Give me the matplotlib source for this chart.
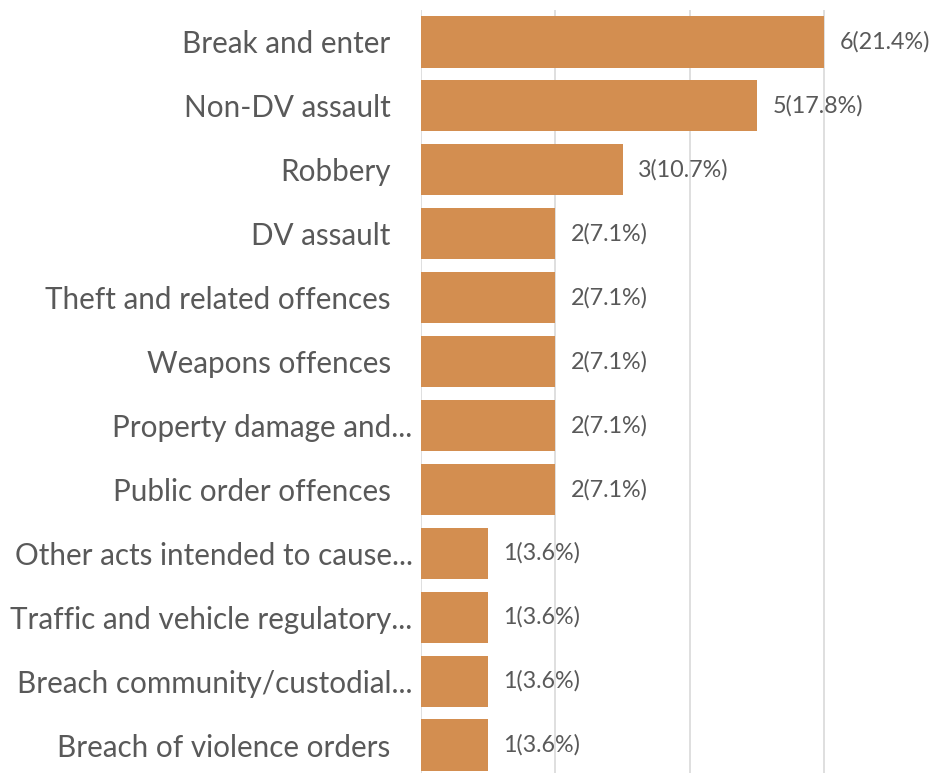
import numpy as np
import matplotlib.pyplot as plt
import matplotlib.transforms as mtransforms

plt.rcParams['font.family'] = ['Lato', 'DejaVu Sans']

# offence categories, top to bottom
categories = ["Break and enter", "Non-DV assault", "Robbery", "DV assault",
              "Theft and related offences", "Weapons offences",
              "Property damage and...", "Public order offences",
              "Other acts intended to cause...", "Traffic and vehicle regulatory...",
              "Breach community/custodial...", "Breach of violence orders"]
counts = [6, 5, 3, 2, 2, 2, 2, 2, 1, 1, 1, 1]
shares = [21.4, 17.8, 10.7, 7.1, 7.1, 7.1, 7.1, 7.1, 3.6, 3.6, 3.6, 3.6]

bar_col = '#D38E50'
txt_col = '#595959'

fig = plt.figure(figsize=(9.44, 7.73), dpi=100)
ax = fig.add_axes([421/944, -4/773, 1 - 421/944, 767/773])

y = np.arange(len(categories))
ax.barh(y, counts, height=0.8, color=bar_col, zorder=3)

for yi, c, s in zip(y, counts, shares):
    ax.annotate(f"{c}({s}%)", xy=(c, yi), xytext=(11, 0), textcoords='offset points',
                va='center', ha='left', fontsize=16.8, color=txt_col)

ax.set_ylim(len(categories) - 0.5, -0.5)
ax.set_xlim(0, (944 - 421) / 67.2)
ax.set_xticks([0, 2, 4, 6])
ax.set_xticklabels([])
ax.tick_params(axis='x', length=0)
ax.set_yticks(y)
ax.set_yticklabels(categories, fontsize=21.3, color=txt_col)
ax.tick_params(axis='y', length=0, pad=6)

# full-length names sit a little further from the axis than the cut-off ones
shift = mtransforms.ScaledTranslation(-0.22, 0, fig.dpi_scale_trans)
for lab in ax.get_yticklabels():
    if not lab.get_text().endswith('...'):
        lab.set_transform(lab.get_transform() + shift)

ax.grid(axis='x', color='#D9D9D9', linewidth=1.2, zorder=0)
for sp in ax.spines.values():
    sp.set_visible(False)

fig.savefig('out.png', dpi=100)
